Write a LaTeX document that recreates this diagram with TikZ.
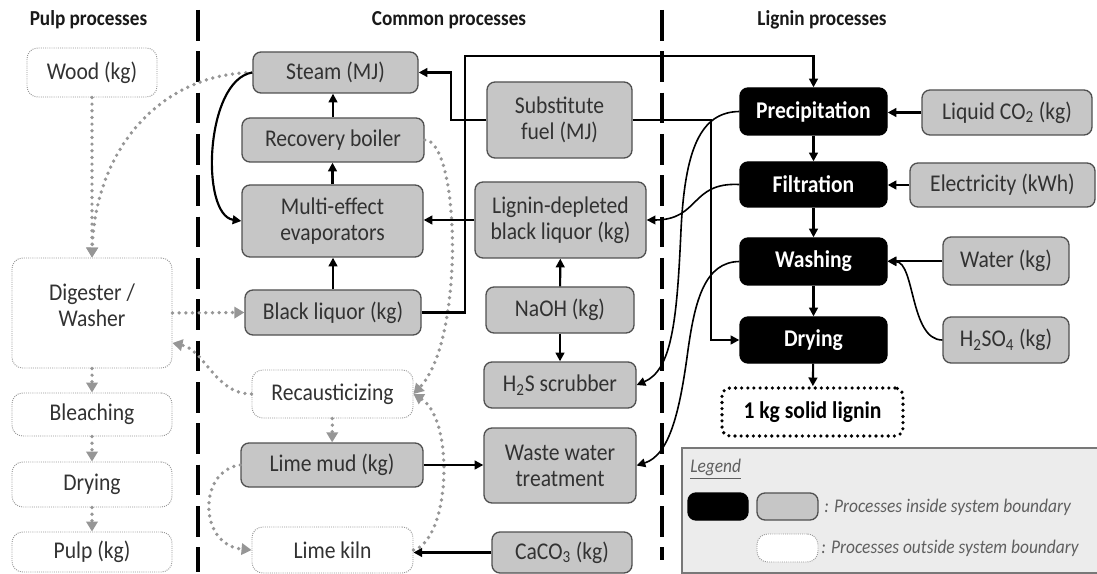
\documentclass[tikz,border=0pt]{standalone}
\usepackage{fontspec}
\setmainfont{Carlito}[FakeStretch=0.9]
\usetikzlibrary{arrows.meta,calc}
\definecolor{boxgray}{RGB}{198,198,198}
\definecolor{boxline}{RGB}{80,80,80}
\definecolor{dotgray}{RGB}{150,150,150}
\definecolor{txt}{RGB}{50,50,50}
\definecolor{legfill}{RGB}{236,236,236}
\definecolor{legline}{RGB}{120,120,120}
\definecolor{legtxt}{RGB}{95,95,95}

\begin{document}
\begin{tikzpicture}[x=0.75pt,y=-0.75pt,
  font=\fontsize{18pt}{19.5pt}\selectfont,
  sized/.style 2 args={minimum width=#1*0.75pt, minimum height=#2*0.75pt, inner sep=0pt, align=center},
  graybox/.style={draw=boxline, fill=boxgray, line width=1pt, text=txt, rounded corners=6pt},
  blackbox/.style={draw=black, fill=black, text=white, line width=1pt, rounded corners=6pt,
    font=\fontsize{18pt}{19.5pt}\selectfont\bfseries},
  outbox/.style={draw=dotgray, fill=white, line width=0.7pt, dash pattern=on 0.7pt off 0.9pt,
    text=txt, rounded corners=8pt},
  solidbox/.style={draw=black, fill=white, line width=2.7pt, line cap=round,
    dash pattern=on 0pt off 4.6pt, rounded corners=6pt, text=black,
    font=\fontsize{18pt}{19.5pt}\selectfont\bfseries},
  flow/.style={draw=black, line width=1.6pt, -{Triangle[length=6.5pt,width=6.5pt]}},
  thinflow/.style={draw=black, line width=1.2pt, -{Triangle[length=6.5pt,width=6.5pt]}},
  dotflow/.style={draw=dotgray, line width=2.8pt, line cap=round, dash pattern=on 0pt off 5pt,
    -{Triangle[length=7.5pt,width=8.5pt]}},
  divider/.style={draw=black, line width=2.6pt, dash pattern=on 23pt off 8pt},
  head/.style={font=\fontsize{16pt}{18pt}\selectfont\bfseries, text=black!90},
  legtext/.style={text=legtxt, font=\fontsize{14.5pt}{16pt}\selectfont\itshape, inner sep=0pt}
]
\useasboundingbox[fill=white] (0,0) rectangle (1097,574);

% column dividers
\coordinate (d1a) at (198,10);  \coordinate (d1b) at (198,572);
\coordinate (d2a) at (662,10);  \coordinate (d2b) at (662,560);
\draw[divider] (d1a) -- (d1b);
\draw[divider] (d2a) -- (d2b);

% column headings
\node[head] (hpulp) at (88.5,20) {Pulp processes};
\node[head] (hcommon) at (449,20) {Common processes};
\node[head] (hlignin) at (822,20) {Lignin processes};

% pulp processes
\node[outbox, sized={130}{49}] (wood) at (92,72.5) {Wood (kg)};
\node[outbox, sized={160}{110}] (digester) at (92,313) {};
\node[text=txt, align=center, inner sep=0pt] (digtext) at (92,305) {Digester /\\Washer};
\node[outbox, sized={160}{43}] (bleach) at (92,414.5) {Bleaching};
\node[outbox, sized={160}{45}] (drypulp) at (92,484.5) {Drying};
\node[outbox, sized={160}{40}] (pulp) at (92,552) {Pulp (kg)};

% common processes
\node[graybox, sized={165}{41}] (steam) at (335.5,72.5) {Steam (MJ)};
\node[graybox, sized={182}{44}] (recov) at (333,140) {Recovery boiler};
\node[graybox, sized={181}{72}] (multi) at (332.5,221) {Multi-effect\\evaporators};
\node[graybox, sized={176}{45}] (black) at (333,312.5) {Black liquor (kg)};
\node[outbox, sized={161}{48}] (recaust) at (332.5,394) {Recausticizing};
\node[graybox, sized={182}{44}] (limemud) at (332,465) {Lime mud (kg)};
\node[outbox, sized={161}{46}] (limekiln) at (332.5,550) {Lime kiln};

\node[graybox, sized={145}{76}] (subst) at (559.5,120) {Substitute\\fuel (MJ)};
\node[graybox, sized={171}{76}] (ligdep) at (560.5,220) {Lignin-depleted\\black liquor (kg)};
\node[graybox, sized={148}{46}] (naoh) at (560,310) {NaOH (kg)};
\node[graybox, sized={152}{46}] (h2s) at (560,385) {H\textsubscript{2}S scrubber};
\node[graybox, sized={152}{75}] (wwt) at (560,465.5) {Waste water\\treatment};
\node[graybox, sized={140}{41}] (caco3) at (562,552.5) {CaCO\textsubscript{3} (kg)};

% lignin processes
\node[blackbox, sized={147}{47}] (precip) at (813.5,111.5) {Precipitation};
\node[blackbox, sized={147}{45}] (filt) at (813.5,184.5) {Filtration};
\node[blackbox, sized={147}{47}] (wash) at (813.5,261.5) {Washing};
\node[blackbox, sized={147}{46}] (dry) at (813.5,340) {Drying};
\node[solidbox, sized={181}{48}] (solid) at (812.5,412) {1 kg solid lignin};
\node[graybox, sized={170}{45}] (co2) at (1007,112.5) {Liquid CO\textsubscript{2} (kg)};
\node[graybox, sized={185}{44}] (elec) at (1002.5,185) {Electricity (kWh)};
\node[graybox, sized={126}{48}] (water) at (1006,261) {Water (kg)};
\node[graybox, sized={126}{46}] (h2so4) at (1006,340) {H\textsubscript{2}SO\textsubscript{4} (kg)};

% legend
\node[draw=legline, fill=legfill, line width=1.2pt, sized={416}{125}] (legend) at (890,510.5) {};
\node[legtext, anchor=west] (legtitle) at (690,469) {\underline{Legend}};
\node[blackbox, sized={60}{27}] (legblack) at (718,506.5) {};
\node[graybox, sized={61}{27}] (leggray) at (787.5,506.5) {};
\node[outbox, sized={61}{28}] (legwhite) at (787.5,548) {};
\node[legtext, anchor=west] (legin) at (824,507) {: Processes inside system boundary};
\node[legtext, anchor=west] (legout) at (821,548) {: Processes outside system boundary};

% pulp-side flows (outside the system boundary)
\draw[dotflow] (wood) -- (digester);
\draw[dotflow] (steam.west) .. controls (160,74) and (95,150) .. (digester.north);
\draw[dotflow] (digester.east) -- (black.west);
\draw[dotflow] (recaust.west) .. controls (215,394) and (205,350) .. ([yshift=-22.5pt]digester.east);
\draw[dotflow] (digester) -- (bleach);
\draw[dotflow] (bleach) -- (drypulp);
\draw[dotflow] (drypulp) -- (pulp);
\draw[dotflow] (recaust) -- (limemud);
\draw[dotflow] (limemud.west) .. controls (198,470) and (198,545) .. (limekiln.west);
\draw[dotflow] (recov.east) .. controls (460,140) and (465,340) .. (recaust.east);
\draw[dotflow] (limekiln.east) .. controls (450,540) and (455,420) .. (recaust.east);

% chemical recovery loop
\draw[flow] (steam.west) .. controls (205,80) and (200,215) .. (multi.west);
\draw[flow] (recov.north) -- (recov.north |- steam.south);
\draw[flow] (multi.north) -- (multi.north |- recov.south);
\draw[flow] (black.north) -- (black.north |- multi.south);
\draw[flow] (ligdep.west) -- (ligdep.west -| multi.east);
\draw[flow] (naoh) -- (ligdep);
\draw[flow] (naoh) -- (h2s);
\draw[flow] (limemud.east) -- (limemud.east -| wwt.west);
\draw[flow] (caco3.west) -- (caco3.west -| limekiln.east);

% black liquor to precipitation, substitute fuel to steam and drying
\coordinate (blTop) at (465,56);
\draw[flow] (black.east) -| (blTop) -| (precip.north);
\coordinate (sfLeft) at (451,72.5);
\draw[flow] (subst.west) -| (sfLeft) -- (steam.east);
\coordinate (sfRight) at (711,120);
\draw[flow] (subst.east) -- (sfRight) |- (dry.west);

% lignin line
\draw[flow] (precip) -- (filt);
\draw[flow] (filt) -- (wash);
\draw[flow] (wash) -- (dry);
\draw[flow] (dry) -- (solid);
\draw[flow] (co2.west) -- (co2.west -| precip.east);
\draw[flow] (elec.west) -- (elec.west -| filt.east);
\draw[flow] (water.west) -- (water.west -| wash.east);
\draw[thinflow] (h2so4.west) .. controls (910,340) and (915,262) .. (wash.east);
\draw[thinflow] (filt.west) .. controls (690,182) and (700,220) .. (ligdep.east);
\coordinate (pMid) at (681,230);
\draw[thinflow] (precip.west) .. controls (700,112) and (685,150) .. (pMid)
  .. controls (677,320) and (672,370) .. (h2s.east);
\coordinate (wMid) at (688,350);
\draw[thinflow] (wash.west) .. controls (705,262) and (695,300) .. (wMid)
  .. controls (680,410) and (670,455) .. (wwt.east);
\end{tikzpicture}
\end{document}
